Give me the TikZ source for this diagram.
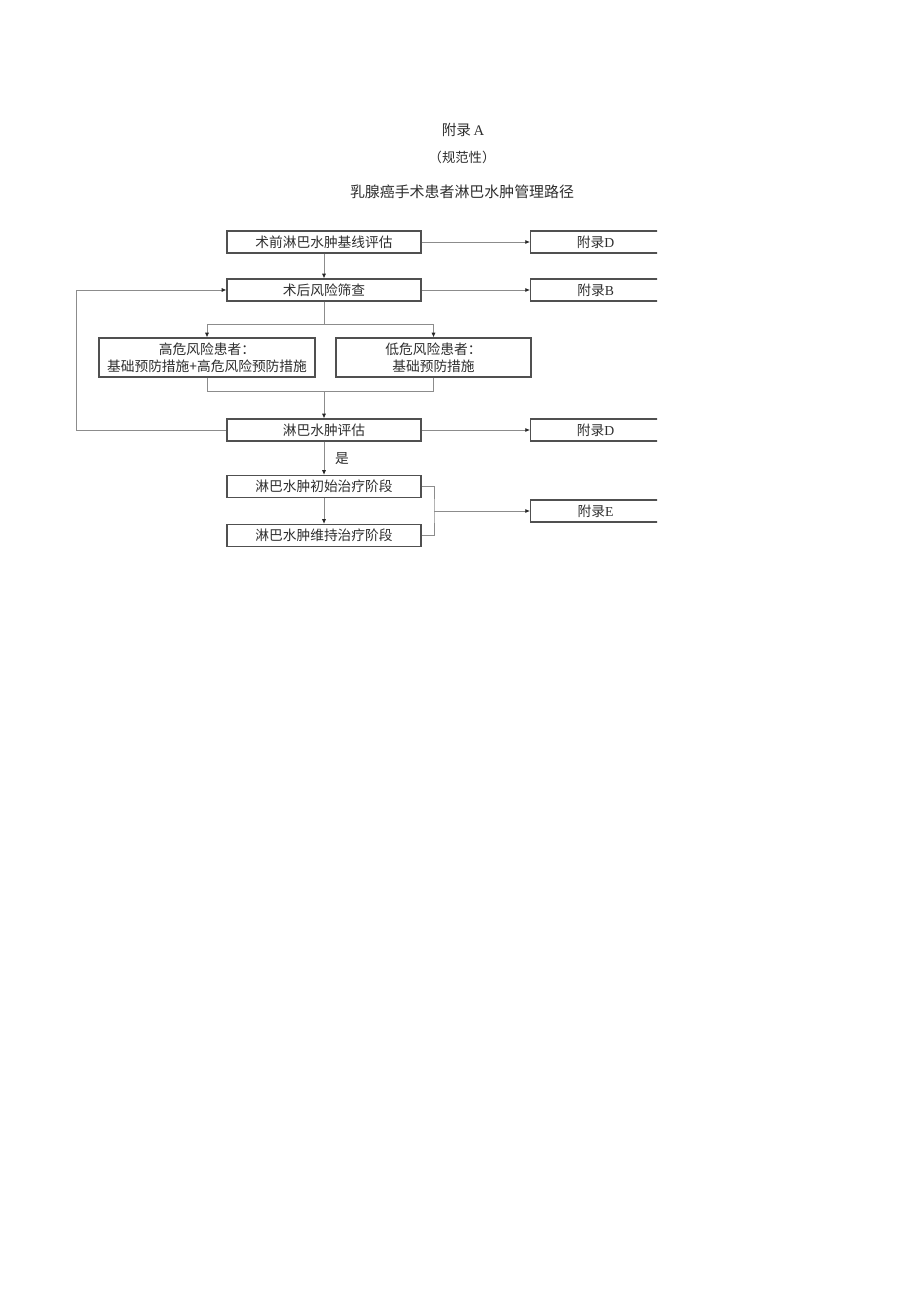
\documentclass[tikz,border=0pt]{standalone}
\usepackage{fontspec}
\setmainfont{Liberation Serif}
\newfontfamily\cjk{Noto Sans CJK SC}
\usetikzlibrary{arrows.meta}
\definecolor{boxgray}{HTML}{505050}
\definecolor{linegray}{HTML}{8C8C8C}
\definecolor{textgray}{HTML}{2E2E2E}
\tikzset{
  stepbox/.style={draw=boxgray, line width=0.9pt, fill=white, inner sep=0pt,
    minimum width=145.5pt, minimum height=16.5pt, text=textgray,
    font=\cjk\fontsize{10.3}{13}\selectfont},
  riskbox/.style={stepbox, minimum height=29.25pt, align=center},
  refbox/.style={stepbox, anchor=west, minimum width=97.5pt},
  link/.style={draw=linegray, line width=0.6pt},
  arr/.style={link, -{Latex[length=3.5pt, width=3pt, color=black!85]}},
  heading/.style={text=textgray, inner sep=0pt}
}
\begin{document}
\begin{tikzpicture}[x=0.75pt, y=-0.75pt]
\useasboundingbox (0,0) rectangle (920,1301);
% headings
\node[heading, font=\fontsize{11}{13}\selectfont] (appA) at (463,130) {{\cjk 附录}\,A};
\node[heading, font=\cjk\fontsize{10}{12}\selectfont] (norm) at (462,157) {（规范性）};
\node[heading, font=\cjk\fontsize{11.2}{14}\selectfont] (title) at (462,192) {乳腺癌手术患者淋巴水肿管理路径};
% main column
\node[stepbox] (base) at (324,242) {术前淋巴水肿基线评估};
\node[stepbox] (screen) at (324,290) {术后风险筛查};
\node[riskbox, minimum width=162pt] (high) at (207,357.5) {高危风险患者：\\基础预防措施+高危风险预防措施};
\node[riskbox, minimum width=146.25pt] (low) at (433.5,357.5) {低危风险患者：\\基础预防措施};
\node[stepbox] (assess) at (324,430) {淋巴水肿评估};
\node[stepbox] (init) at (324,486.5) {淋巴水肿初始治疗阶段};
\node[stepbox] (keep) at (324,535.5) {淋巴水肿维持治疗阶段};
% appendix boxes, cut at the right edge
\begin{scope}
\clip (0,0) rectangle (657,1301);
\node[refbox] (refD) at (530,242) {附录{\rmfamily D}};
\node[refbox] (refB) at (530,290) {附录{\rmfamily B}};
\node[refbox] (refD2) at (530,430) {附录{\rmfamily D}};
\node[refbox] (refE) at (530,511) {附录{\rmfamily E}};
\end{scope}
\coordinate (split) at (324,324);
\coordinate (merge) at (324,391);
\coordinate (bend) at (434,511);
% connectors
\draw[arr] (base) -- (screen);
\draw[arr] (base) -- (refD);
\draw[arr] (screen) -- (refB);
\draw[link] (screen) -- (split);
\draw[arr] (split) -| (high);
\draw[arr] (split) -| (low);
\draw[link] (high) |- (merge);
\draw[link] (low) |- (merge);
\draw[arr] (merge) -- (assess);
\draw[arr] (assess.west) -- ++(-150,0) |- (screen.west); % back to screening
\draw[arr] (assess) -- (refD2);
\draw[arr] (assess) -- node[right=8pt, text=textgray, font=\cjk\fontsize{10.3}{12}\selectfont, inner sep=0pt] (yes) {是} (init);
\draw[arr] (init) -- (keep);
\draw[link] (init.east) -| (bend) |- (keep.east);
\draw[arr] (bend) -- (refE);
\end{tikzpicture}
\end{document}
